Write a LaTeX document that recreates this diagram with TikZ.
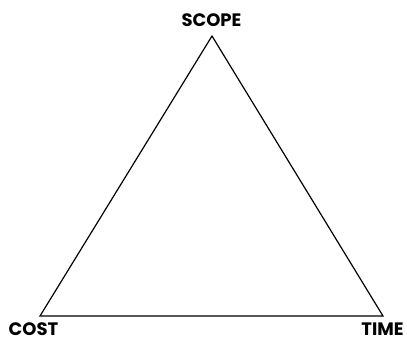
\documentclass[tikz,border=0pt]{standalone}
\usepackage{fontspec}
\setmainfont{Poppins}[BoldFont={* Bold}]
\begin{document}
\begin{tikzpicture}[x=1pt,y=-1pt,
  lbl/.style={font=\bfseries\fontsize{18}{18}\selectfont, inner sep=0pt, text depth=0pt, anchor=base},
  edge/.style={draw=black, line width=1.2pt, line join=miter}]
\useasboundingbox (0,0) rectangle (407,338);
\coordinate (S) at (212,36);
\coordinate (C) at (40,316);
\coordinate (T) at (383,316);
\draw[edge] (S) -- (C) -- (T) -- cycle;
\node[lbl] (scope) at (211.5,26.5) {SCOPE};
\node[lbl] (cost) at (33.5,335) {COST};
\node[lbl] (time) at (382.5,335) {TIME};
\end{tikzpicture}
\end{document}
